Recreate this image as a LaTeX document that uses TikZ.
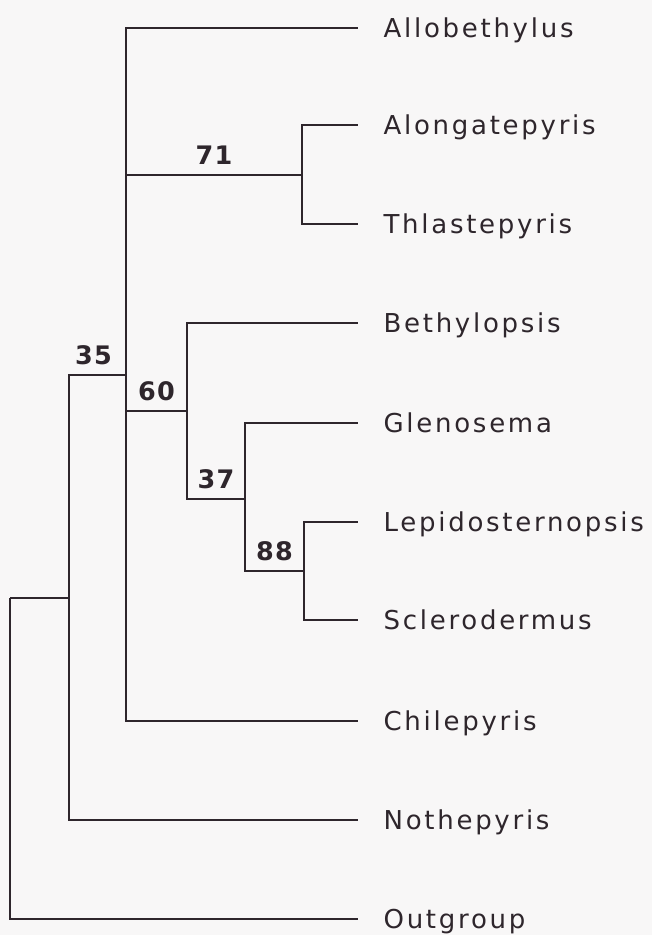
\documentclass[tikz,border=0pt]{standalone}
\usepackage{fontspec}
\setmainfont{DejaVu Sans}
\newfontfamily\taxonfont[LetterSpace=10.5]{DejaVu Sans}
\newfontfamily\supportfont[LetterSpace=5]{DejaVu Sans}
\usepackage{xcolor}
\usepackage{tikz}
\usetikzlibrary{positioning}

\definecolor{ink}{RGB}{46,38,44}
\definecolor{paper}{RGB}{248,247,247}

\begin{document}
\begin{tikzpicture}[x=1pt, y=-1pt, color=ink, line width=1.2pt, node distance=25pt,
    leaf/.style={font=\taxonfont\fontsize{26}{26}\selectfont, text height=19pt, text depth=0pt, inner sep=0pt},
    support/.style={font=\supportfont\bfseries\fontsize{25.5}{25.5}\selectfont, text height=19pt, text depth=0pt, inner sep=0pt, pos=0.75, above=10pt}]
            \fill[paper] (0,0) rectangle (652,935);
            \useasboundingbox (0,0) rectangle (652,935);

            % clades
            \coordinate (root) at (10,598);
            \coordinate (c35) at (69,598);
            \coordinate (cmain) at (126,375);
            \coordinate (c71) at (302,175);
            \coordinate (c60) at (187,411);
            \coordinate (c37) at (245,499);
            \coordinate (c88) at (304,571);

            % tips
            \coordinate (tallo) at (358,28);
            \coordinate (talon) at (358,125);
            \coordinate (tthla) at (358,224);
            \coordinate (tbeth) at (358,323);
            \coordinate (tglen) at (358,423);
            \coordinate (tlepi) at (358,522);
            \coordinate (tscle) at (358,620);
            \coordinate (tchil) at (358,721);
            \coordinate (tnoth) at (358,820);
            \coordinate (tout) at (358,919);

            \node[leaf, right=of tallo] (allo) {Allobethylus};
            \node[leaf, right=of talon] (alon) {Alongatepyris};
            \node[leaf, right=of tthla] (thla) {Thlastepyris};
            \node[leaf, right=of tbeth] (beth) {Bethylopsis};
            \node[leaf, right=of tglen] (glen) {Glenosema};
            \node[leaf, right=of tlepi] (lepi) {Lepidosternopsis};
            \node[leaf, right=of tscle] (scle) {Sclerodermus};
            \node[leaf, right=of tchil] (chil) {Chilepyris};
            \node[leaf, right=of tnoth] (noth) {Nothepyris};
            \node[leaf, right=of tout] (out) {Outgroup};

            \draw (root) |- (c35);
            \draw (root) |- (tout);
            \draw (c35) |- node[support, xshift=-4pt] {35} (cmain);
            \draw (c35) |- (tnoth);
            \draw (cmain) |- (tallo);
            \draw (cmain) |- node[support] {71} (c71);
            \draw (cmain) |- node[support] {60} (c60);
            \draw (cmain) |- (tchil);
            \draw (c71) |- (talon);
            \draw (c71) |- (tthla);
            \draw (c60) |- (tbeth);
            \draw (c60) |- node[support] {37} (c37);
            \draw (c37) |- (tglen);
            \draw (c37) |- node[support] {88} (c88);
            \draw (c88) |- (tlepi);
            \draw (c88) |- (tscle);
        \end{tikzpicture}
\end{document}
